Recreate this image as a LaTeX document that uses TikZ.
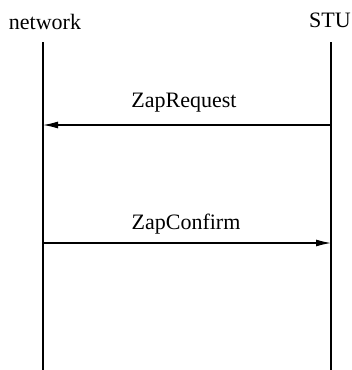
\documentclass[tikz,border=0pt]{standalone}
\usepackage{fontspec}
\setmainfont{Liberation Serif}
\usetikzlibrary{arrows.meta}
\begin{document}
\begin{tikzpicture}[x=1pt,y=-1pt,
  party/.style={font=\fontsize{22}{25}\selectfont, inner sep=0pt},
  msglabel/.style={font=\fontsize{22}{25}\selectfont, inner sep=0pt},
  lifeline/.style={line width=1.2pt},
  msg/.style={line width=1.2pt, -{Latex[length=15pt,width=7pt]}}]
  \useasboundingbox (0,0) rectangle (352,370);
  % participants
  \node[party] (net) at (45,22) {network};
  \node[party] (stu) at (330,20) {STU};
  % lifelines
  \coordinate (netTop) at (43,42);
  \coordinate (netBot) at (43,370);
  \coordinate (stuTop) at (331,42);
  \coordinate (stuBot) at (331,370);
  \draw[lifeline] (netTop) -- (netBot);
  \draw[lifeline] (stuTop) -- (stuBot);
  % messages
  \coordinate (reqR) at (331,125);
  \coordinate (reqL) at (43,125);
  \draw[msg] (reqR) -- (reqL);
  \node[msglabel] (reqlab) at (184,103) {ZapRequest};
  \coordinate (cnfL) at (43,243);
  \coordinate (cnfR) at (331,243);
  \draw[msg] (cnfL) -- (cnfR);
  \node[msglabel] (cnflab) at (186,224) {ZapConfirm};
\end{tikzpicture}
\end{document}
